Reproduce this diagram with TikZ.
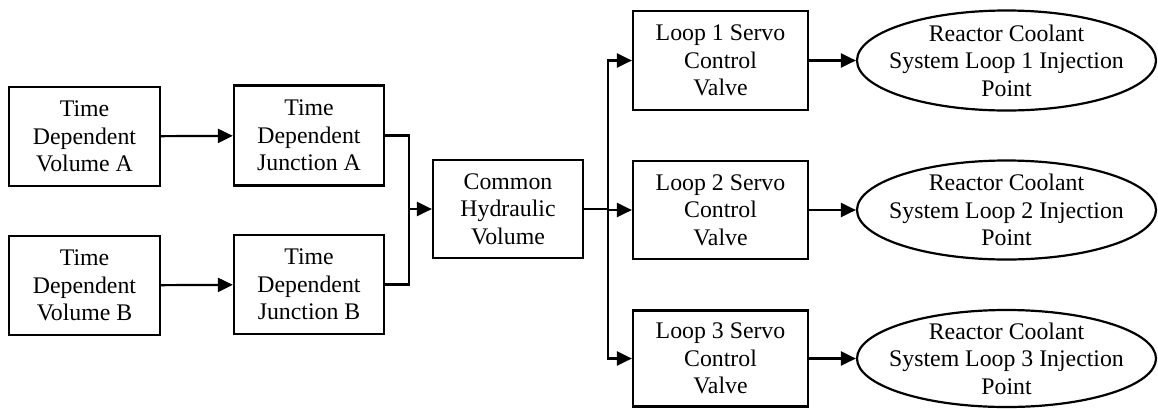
\documentclass[tikz,border=0pt]{standalone}
\usepackage{fontspec}
\setmainfont{Liberation Serif}
\usetikzlibrary{arrows.meta,shapes.geometric}
\begin{document}
\begin{tikzpicture}[x=1pt,y=-1pt,
  every node/.style={font=\fontsize{23.8}{27.5}\selectfont, align=center, inner sep=0pt},
  boxnode/.style={draw, line width=2.2pt, rectangle},
  ellnode/.style={draw, line width=2.2pt, ellipse},
  conn/.style={line width=2.2pt, -{Triangle[length=15pt,width=14pt]}},
  plain/.style={line width=2.2pt}]
\useasboundingbox (0,0) rectangle (1158,408);
% left column
\node[boxnode, minimum width=151pt, minimum height=99pt] (va) at (84.5,136.5) {Time\\Dependent\\Volume A};
\node[boxnode, minimum width=151pt, minimum height=99pt] (vb) at (84.5,285.5) {Time\\Dependent\\Volume B};
\node[boxnode, minimum width=150pt, minimum height=100pt] (ja) at (309,135.5) {Time\\Dependent\\Junction A};
\node[boxnode, minimum width=150pt, minimum height=99pt] (jb) at (309,284.5) {Time\\Dependent\\Junction B};
\node[boxnode, minimum width=150pt, minimum height=98pt] (ch) at (508,209) {Common\\Hydraulic\\Volume};
% loops
\node[boxnode, minimum width=175pt, minimum height=99pt] (l1) at (720.5,60.5) {Loop 1 Servo\\Control\\Valve};
\node[boxnode, minimum width=175pt, minimum height=98pt] (l2) at (720.5,210) {Loop 2 Servo\\Control\\Valve};
\node[boxnode, minimum width=175pt, minimum height=96pt] (l3) at (720.5,358.5) {Loop 3 Servo\\Control\\Valve};
% ellipses
\node[ellnode, minimum width=299pt, minimum height=100pt] (e1) at (1006.5,60.5) {};
\node[ellnode, minimum width=299pt, minimum height=99pt] (e2) at (1006.5,210) {};
\node[ellnode, minimum width=299pt, minimum height=97pt] (e3) at (1006.5,358.5) {};
\node (t1) at (e1) {Reactor Coolant\\System Loop 1 Injection\\Point};
\node (t2) at (e2) {Reactor Coolant\\System Loop 2 Injection\\Point};
\node (t3) at (e3) {Reactor Coolant\\System Loop 3 Injection\\Point};
% connectors
\draw[conn] (va) -- (ja);
\draw[conn] (vb) -- (jb);
\coordinate (m) at (409,209);
\coordinate (s) at (608,209);
\draw[plain] (ja.east) -| (m);
\draw[plain] (jb.east) -| (m);
\draw[conn] (m) -- (ch.west);
\draw[plain] (ch.east) -- (s);
\draw[conn] (s) |- (l1.west);
\draw[conn] (s) -- (s |- l2.west) -- (l2.west);
\draw[conn] (s) |- (l3.west);
\draw[conn] (l1) -- (e1);
\draw[conn] (l2) -- (e2);
\draw[conn] (l3) -- (e3);
\end{tikzpicture}
\end{document}
